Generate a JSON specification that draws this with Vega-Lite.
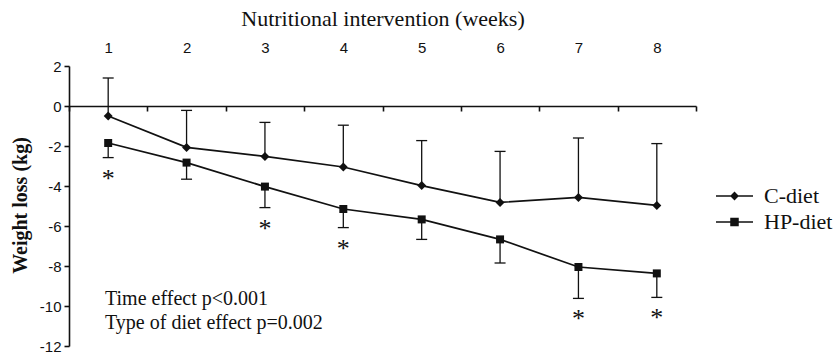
{
  "$schema": "https://vega.github.io/schema/vega-lite/v6.json",
  "width": 627,
  "height": 280,
  "autosize": "none",
  "padding": {"left": 69, "top": 66, "right": 142, "bottom": 9},
  "background": "white",
  "config": {
    "view": {"stroke": null},
    "axis": {
      "grid": false,
      "domainColor": "#111",
      "domainWidth": 1.6,
      "tickColor": "#111",
      "tickWidth": 1.6,
      "labelColor": "#111",
      "titleColor": "#111"
    },
    "axisY": {
      "values": [2, 0, -2, -4, -6, -8, -10, -12],
      "labelExpr": "'' + datum.value",
      "tickSize": 5,
      "labelPadding": 3,
      "labelFont": "Liberation Sans",
      "labelFontSize": 15,
      "titleFont": "Liberation Serif",
      "titleFontSize": 20,
      "titleFontWeight": "bold",
      "titleAngle": -90,
      "titleBaseline": "middle",
      "titleAlign": "center",
      "titleX": -49,
      "titleY": 139
    }
  },
  "datasets": {
    "series": [
      {"diet": "C-diet", "week": 1, "mean": -0.5, "end": 1.4, "sig": false},
      {"diet": "C-diet", "week": 2, "mean": -2.07, "end": -0.22, "sig": false},
      {"diet": "C-diet", "week": 3, "mean": -2.52, "end": -0.82, "sig": false},
      {"diet": "C-diet", "week": 4, "mean": -3.05, "end": -0.96, "sig": false},
      {"diet": "C-diet", "week": 5, "mean": -3.98, "end": -1.73, "sig": false},
      {"diet": "C-diet", "week": 6, "mean": -4.82, "end": -2.27, "sig": false},
      {"diet": "C-diet", "week": 7, "mean": -4.57, "end": -1.6, "sig": false},
      {"diet": "C-diet", "week": 8, "mean": -4.97, "end": -1.88, "sig": false},
      {"diet": "HP-diet", "week": 1, "mean": -1.85, "end": -2.58, "sig": true},
      {"diet": "HP-diet", "week": 2, "mean": -2.83, "end": -3.66, "sig": false},
      {"diet": "HP-diet", "week": 3, "mean": -4.03, "end": -5.08, "sig": true},
      {"diet": "HP-diet", "week": 4, "mean": -5.15, "end": -6.08, "sig": true},
      {"diet": "HP-diet", "week": 5, "mean": -5.67, "end": -6.67, "sig": false},
      {"diet": "HP-diet", "week": 6, "mean": -6.67, "end": -7.85, "sig": false},
      {"diet": "HP-diet", "week": 7, "mean": -8.05, "end": -9.62, "sig": true},
      {"diet": "HP-diet", "week": 8, "mean": -8.37, "end": -9.57, "sig": true}
    ],
    "notes": [
      {"x": 0.96, "y": -9.95, "text": "Time effect p<0.001"},
      {"x": 0.96, "y": -11.15, "text": "Type of diet effect p=0.002"}
    ]
  },
  "resolve": {"axis": {"x": "independent"}},
  "layer": [
    {
      "data": {"name": "series"},
      "mark": {"type": "line", "color": "#111", "strokeWidth": 1.7},
      "encoding": {
        "x": {
          "field": "week", "type": "quantitative",
          "scale": {"domain": [0.5, 8.5], "nice": false, "zero": false},
          "axis": {
            "orient": "top",
            "values": [1, 2, 3, 4, 5, 6, 7, 8],
            "domain": false,
            "ticks": false,
            "tickSize": 0,
            "labelPadding": 11,
            "labelFont": "Liberation Sans",
            "labelFontSize": 15,
            "title": "Nutritional intervention (weeks)",
            "titleFont": "Liberation Serif",
            "titleFontSize": 22,
            "titleFontWeight": "normal",
            "titleBaseline": "alphabetic",
            "titleY": -41
          }
        },
        "y": {
          "field": "mean", "type": "quantitative",
          "scale": {"domain": [-12, 2], "nice": false, "zero": false},
          "axis": {"title": "Weight loss (kg)"}
        },
        "detail": {"field": "diet"}
      }
    },
    {
      "data": {"name": "series"},
      "mark": {"type": "rule", "color": "#111", "strokeWidth": 1.3},
      "encoding": {
        "x": {"field": "week", "type": "quantitative", "axis": null},
        "y": {"field": "mean", "type": "quantitative", "axis": {"title": "Weight loss (kg)"}},
        "y2": {"field": "end"}
      }
    },
    {
      "data": {"name": "series"},
      "mark": {"type": "tick", "orient": "horizontal", "color": "#111", "size": 11, "thickness": 1.3, "opacity": 1},
      "encoding": {
        "x": {"field": "week", "type": "quantitative", "axis": null},
        "y": {"field": "end", "type": "quantitative", "axis": {"title": "Weight loss (kg)"}}
      }
    },
    {
      "data": {"name": "series"},
      "transform": [{"filter": "datum.diet === 'C-diet'"}],
      "mark": {"type": "point", "filled": true, "color": "#111", "opacity": 1, "size": 64, "shape": "M-1.12,0L0,-1.12L1.12,0L0,1.12Z"},
      "encoding": {
        "x": {"field": "week", "type": "quantitative", "axis": null},
        "y": {"field": "mean", "type": "quantitative", "axis": {"title": "Weight loss (kg)"}}
      }
    },
    {
      "data": {"name": "series"},
      "transform": [{"filter": "datum.diet === 'HP-diet'"}],
      "mark": {"type": "point", "filled": true, "color": "#111", "opacity": 1, "size": 64, "shape": "square"},
      "encoding": {
        "x": {
          "field": "week", "type": "quantitative",
          "axis": {
            "orient": "bottom",
            "offset": -240,
            "values": [0.5, 1.5, 2.5, 3.5, 4.5, 5.5, 6.5, 7.5, 8.5],
            "labels": false,
            "tickSize": 5,
            "title": null
          }
        },
        "y": {"field": "mean", "type": "quantitative", "axis": {"title": "Weight loss (kg)"}}
      }
    },
    {
      "data": {"name": "series"},
      "transform": [{"filter": "false"}],
      "mark": {"type": "point", "filled": true, "color": "#111", "opacity": 1, "size": 1369},
      "encoding": {
        "x": {"field": "week", "type": "quantitative", "axis": null},
        "y": {"field": "mean", "type": "quantitative", "axis": {"title": "Weight loss (kg)"}},
        "shape": {
          "field": "diet", "type": "nominal",
          "scale": {
            "domain": ["C-diet", "HP-diet"],
            "range": [
              "M-1,-0.045L1,-0.045L1,0.045L-1,0.045ZM-0.24,0L0,-0.24L0.24,0L0,0.24Z",
              "M-1,-0.045L1,-0.045L1,0.045L-1,0.045ZM-0.23,-0.23L0.23,-0.23L0.23,0.23L-0.23,0.23Z"
            ]
          },
          "legend": {
            "title": null,
            "orient": "none",
            "legendX": 646,
            "legendY": 120,
            "padding": 0,
            "clipHeight": 20,
            "rowPadding": 4,
            "labelOffset": 10,
            "labelFont": "Liberation Serif",
            "labelFontSize": 22,
            "labelColor": "#111",
            "symbolSize": 1369,
            "symbolFillColor": "#111",
            "symbolOpacity": 1
          }
        }
      }
    },
    {
      "data": {"name": "series"},
      "transform": [{"filter": "datum.sig"}],
      "mark": {"type": "text", "text": "*", "font": "Liberation Serif", "fontSize": 26, "color": "#111", "baseline": "middle", "dy": 21},
      "encoding": {
        "x": {"field": "week", "type": "quantitative", "axis": null},
        "y": {"field": "end", "type": "quantitative", "axis": {"title": "Weight loss (kg)"}}
      }
    },
    {
      "data": {"name": "notes"},
      "mark": {"type": "text", "font": "Liberation Serif", "fontSize": 20, "color": "#111", "align": "left", "baseline": "alphabetic"},
      "encoding": {
        "x": {"field": "x", "type": "quantitative", "axis": null},
        "y": {"field": "y", "type": "quantitative", "axis": {"title": "Weight loss (kg)"}},
        "text": {"field": "text"}
      }
    }
  ]
}
